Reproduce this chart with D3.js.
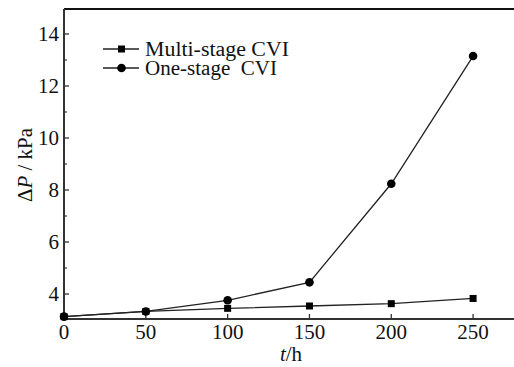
<!DOCTYPE html>
<html lang="en">
  <head>
    <meta charset="UTF-8" />
    <script src="https://d3js.org/d3.v7.min.js"></script>
    <title>Pressure drop vs time</title>
    <style>
      body { margin: 0; background: #fff; }
      text { font-family: "Liberation Serif", "Times New Roman", serif; fill: #111; }
    </style>
  </head>
  <body>
    <svg id="chart" width="514" height="367"></svg>
    <script>
      // data
      var hours = [0, 50, 100, 150, 200, 250];
      var multiStage = [3.13, 3.33, 3.45, 3.54, 3.63, 3.83];
      var oneStage = [3.13, 3.33, 3.76, 4.45, 8.24, 13.15];
      var seriesNames = ['Multi-stage CVI', 'One-stage  CVI'];
      var xTicks = [0, 50, 100, 150, 200, 250];
      var yTicks = [4, 6, 8, 10, 12, 14];
      var yMinor = [5, 7, 9, 11, 13];

      var svg = d3.select('#chart');
      var mLeft = 64, mRight = 514, mTop = 9, mBottom = 319;
      var fs = '21px';

      var x = d3.scaleLinear().domain([0, 275]).range([mLeft, mRight]);
      var y = d3.scaleLinear().domain([3.04, 14.96]).range([mBottom, mTop]);

      // frame: top line + left axis + bottom axis
      svg.append('line')
        .attr('x1', mLeft).attr('x2', mRight).attr('y1', mTop).attr('y2', mTop)
        .attr('stroke', '#111').attr('stroke-width', 2);

      // y axis with inward ticks
      var yAxis = svg.append('g').attr('transform', 'translate(' + mLeft + ',0)');
      yAxis.append('line').attr('y1', mTop).attr('y2', mBottom)
        .attr('stroke', '#333').attr('stroke-width', 2);
      yAxis.selectAll('.maj').data(yTicks).enter().append('line')
        .attr('x1', 0).attr('x2', 5)
        .attr('y1', function(d) { return y(d); }).attr('y2', function(d) { return y(d); })
        .attr('stroke', '#333').attr('stroke-width', 1.3);
      yAxis.selectAll('.min').data(yMinor).enter().append('line')
        .attr('x1', 0).attr('x2', 3)
        .attr('y1', function(d) { return y(d); }).attr('y2', function(d) { return y(d); })
        .attr('stroke', '#333').attr('stroke-width', 1.2);
      yAxis.selectAll('text').data(yTicks).enter().append('text')
        .attr('x', -5).attr('y', function(d) { return y(d); })
        .attr('dy', '0.35em').attr('text-anchor', 'end')
        .style('font-size', fs)
        .text(function(d) { return d; });

      // x axis
      var xAxis = svg.append('g').attr('transform', 'translate(0,' + mBottom + ')');
      xAxis.append('line').attr('x1', mLeft).attr('x2', mRight)
        .attr('stroke', '#333').attr('stroke-width', 2);
      xAxis.selectAll('.maj').data(xTicks).enter().append('line')
        .attr('x1', function(d) { return x(d); }).attr('x2', function(d) { return x(d); })
        .attr('y1', 0).attr('y2', -5)
        .attr('stroke', '#333').attr('stroke-width', 1.3);
      xAxis.selectAll('text').data(xTicks).enter().append('text')
        .attr('x', function(d) { return x(d); }).attr('y', 20)
        .attr('text-anchor', 'middle')
        .style('font-size', fs)
        .text(function(d) { return d; });

      // axis titles
      var xt = svg.append('text').attr('x', 291).attr('y', 361)
        .attr('text-anchor', 'middle').style('font-size', fs);
      xt.append('tspan').style('font-style', 'italic').text('t');
      xt.append('tspan').text('/h');

      var yt = svg.append('text')
        .attr('transform', 'translate(32,165) rotate(-90)')
        .attr('text-anchor', 'middle').style('font-size', fs);
      yt.append('tspan').text('Δ');
      yt.append('tspan').style('font-style', 'italic').text('P');
      yt.append('tspan').text(' / kPa');

      var line = d3.line()
        .x(function(d, i) { return x(hours[i]); })
        .y(function(d) { return y(d); });

      // lines
      [multiStage, oneStage].forEach(function(vals) {
        svg.append('path').datum(vals)
          .attr('d', line).attr('fill', 'none')
          .attr('stroke', '#222').attr('stroke-width', 1.3);
      });

      // markers
      svg.append('g').selectAll('rect').data(multiStage).enter().append('rect')
        .attr('x', function(d, i) { return x(hours[i]) - 3.5; })
        .attr('y', function(d) { return y(d) - 3.5; })
        .attr('width', 7).attr('height', 7).attr('fill', '#000');
      svg.append('g').selectAll('circle').data(oneStage).enter().append('circle')
        .attr('cx', function(d, i) { return x(hours[i]); })
        .attr('cy', function(d) { return y(d); })
        .attr('r', 4.3).attr('fill', '#000');

      // legend
      var legend = svg.append('g');
      seriesNames.forEach(function(name, i) {
        var ly = 49 + i * 19;
        legend.append('line').attr('x1', 103).attr('x2', 139)
          .attr('y1', ly).attr('y2', ly)
          .attr('stroke', '#222').attr('stroke-width', 1.3);
        if (i === 0) {
          legend.append('rect').attr('x', 118).attr('y', ly - 3.5)
            .attr('width', 7).attr('height', 7).attr('fill', '#000');
        } else {
          legend.append('circle').attr('cx', 121.5).attr('cy', ly).attr('r', 4.3).attr('fill', '#000');
        }
        legend.append('text').attr('x', 145).attr('y', ly).attr('dy', '0.33em')
          .attr('textLength', i === 0 ? 144 : 132).attr('lengthAdjust', 'spacingAndGlyphs')
          .style('font-size', '20px').style('white-space', 'pre')
          .text(name);
      });
    </script>
  </body>
</html>
